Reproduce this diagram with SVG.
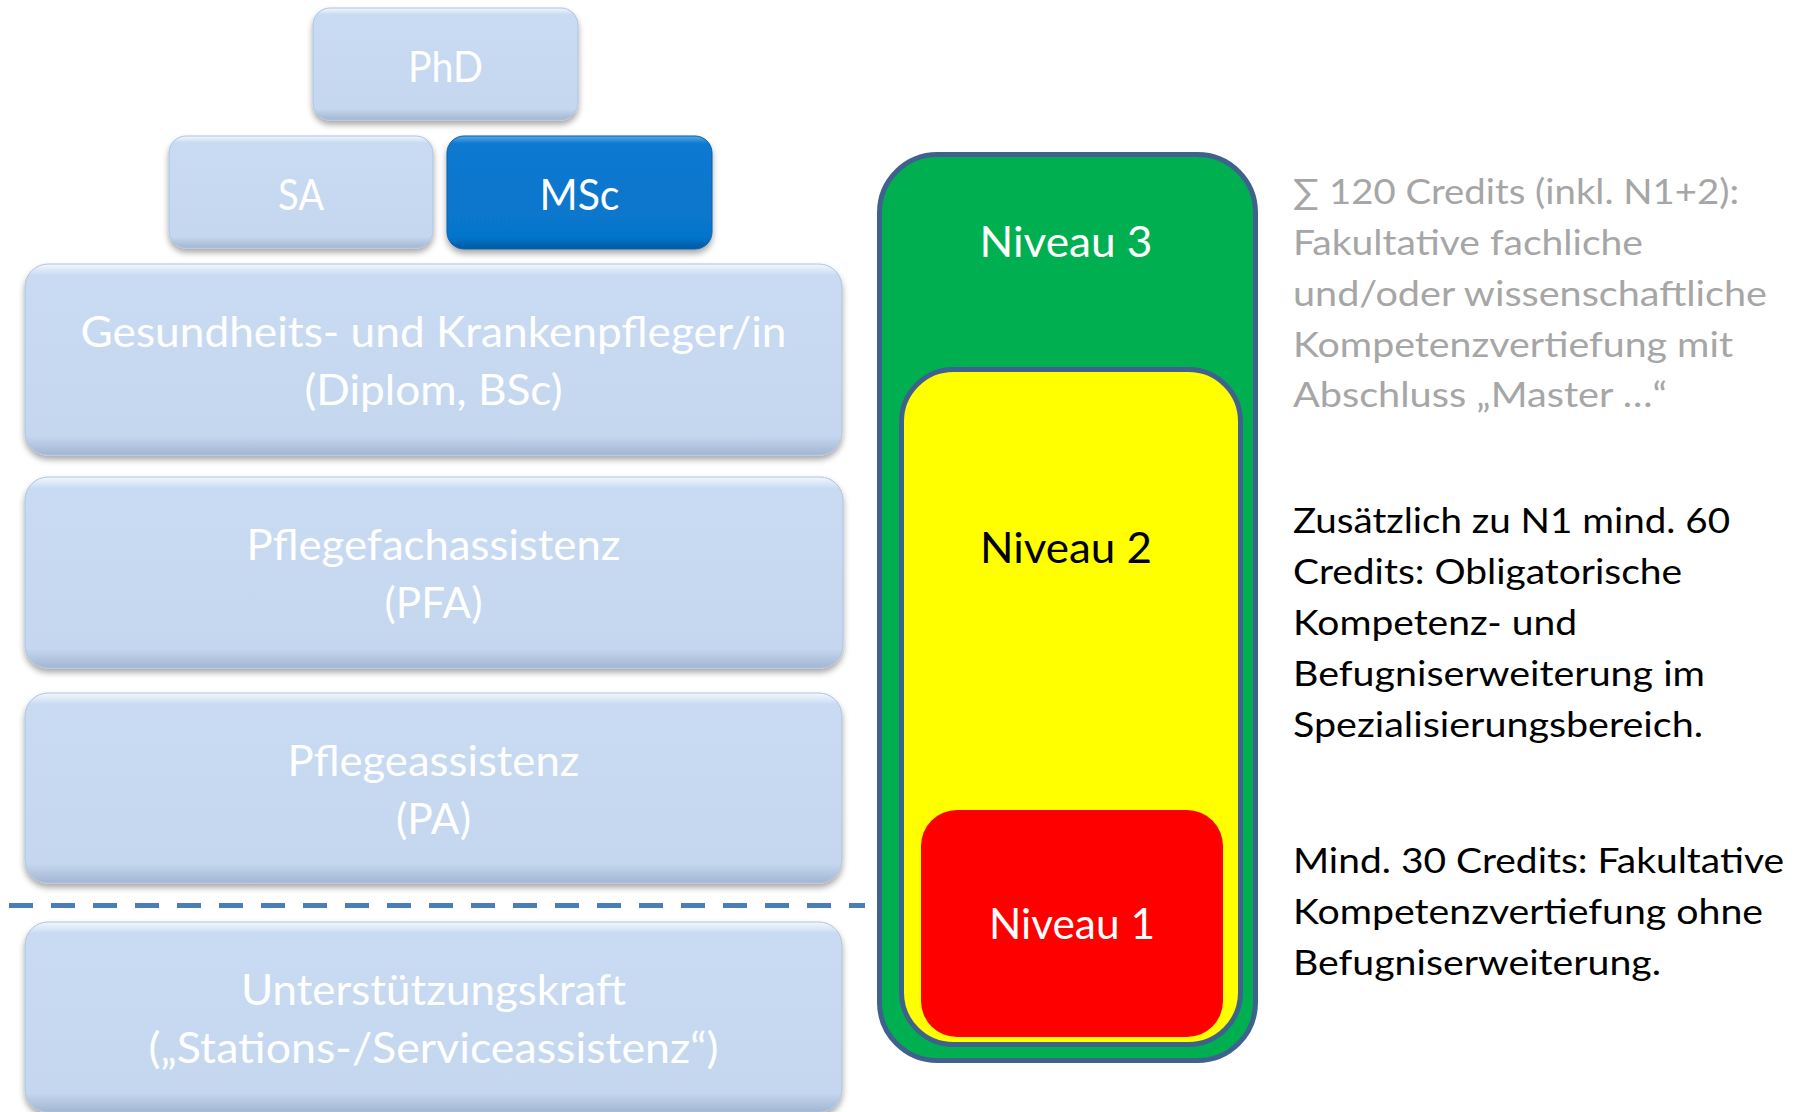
<svg xmlns="http://www.w3.org/2000/svg" width="1801" height="1112" viewBox="0 0 1801 1112">
<style>
.box{fill:url(#gLight);stroke:#AFC3DD;stroke-width:1;filter:url(#shadow)}
.boxDark{fill:url(#gDark);stroke:#0A5FA6;stroke-width:1;filter:url(#shadow)}
.lbl{font-family:Lato,"Liberation Sans",sans-serif;fill:#FFFFFF;text-anchor:middle}
.big{font-size:43px}
.small{font-size:42px}
.niv{font-family:Lato,"Liberation Sans",sans-serif;font-size:42px;text-anchor:middle}
.side{font-family:Lato,"Liberation Sans",sans-serif;font-size:35px}
.grey{fill:#A6A6A6}
.blk{fill:#000000}
.lvl{stroke:#3F618D;stroke-width:5}
</style>
<defs>
<linearGradient id="gLight" x1="0" y1="0" x2="0" y2="1">
<stop offset="0" stop-color="#F2F7FD"/>
<stop offset="0.06" stop-color="#C9DBF2"/>
<stop offset="0.9" stop-color="#C4D7EF"/>
<stop offset="1" stop-color="#A2B6D2"/>
</linearGradient>
<linearGradient id="gDark" x1="0" y1="0" x2="0" y2="1">
<stop offset="0" stop-color="#5AA6E6"/>
<stop offset="0.07" stop-color="#0A79D0"/>
<stop offset="0.9" stop-color="#0675CC"/>
<stop offset="1" stop-color="#05599E"/>
</linearGradient>
<filter id="shadow" x="-5%" y="-10%" width="110%" height="125%">
<feDropShadow dx="0" dy="4" stdDeviation="3" flood-color="#000000" flood-opacity="0.35"/>
</filter>
</defs>
<rect width="1801" height="1112" fill="#FFFFFF"/>

<g id="node-phd">
<rect class="box" x="313" y="8" width="265" height="112" rx="17"/>
<text class="lbl small" x="445.5" y="82" textLength="75" lengthAdjust="spacingAndGlyphs">PhD</text>
</g>
<g id="node-sa">
<rect class="box" x="169" y="136" width="264" height="112" rx="17"/>
<text class="lbl small" x="301" y="210" textLength="46" lengthAdjust="spacingAndGlyphs">SA</text>
</g>
<g id="node-msc">
<rect class="boxDark" x="447" y="136" width="265" height="113" rx="17"/>
<text class="lbl small" x="579.5" y="210" textLength="80" lengthAdjust="spacingAndGlyphs">MSc</text>
</g>
<g id="node-gk">
<rect class="box" x="25" y="264" width="817" height="191" rx="23"/>
<text class="lbl big" x="433.5" y="347" textLength="706" lengthAdjust="spacingAndGlyphs">Gesundheits- und Krankenpfleger/in</text>
<text class="lbl big" x="433.5" y="405" textLength="258" lengthAdjust="spacingAndGlyphs">(Diplom, BSc)</text>
</g>
<g id="node-pfa">
<rect class="box" x="25" y="477" width="818" height="191" rx="23"/>
<text class="lbl big" x="433.5" y="560" textLength="374" lengthAdjust="spacingAndGlyphs">Pflegefachassistenz</text>
<text class="lbl big" x="433.5" y="618" textLength="98" lengthAdjust="spacingAndGlyphs">(PFA)</text>
</g>
<g id="node-pa">
<rect class="box" x="25" y="693" width="817" height="190" rx="23"/>
<text class="lbl big" x="433.5" y="776" textLength="292" lengthAdjust="spacingAndGlyphs">Pflegeassistenz</text>
<text class="lbl big" x="433.5" y="834" textLength="75" lengthAdjust="spacingAndGlyphs">(PA)</text>
</g>
<g id="node-uk">
<rect class="box" x="25" y="922" width="817" height="190" rx="23"/>
<text class="lbl big" x="433.5" y="1005" textLength="385" lengthAdjust="spacingAndGlyphs">Unterstützungskraft</text>
<text class="lbl big" x="433.5" y="1063" textLength="570" lengthAdjust="spacingAndGlyphs">(„Stations-/Serviceassistenz“)</text>
</g>

<g id="connectors">
<line x1="9" y1="905.5" x2="865" y2="905.5" stroke="#4A7EBB" stroke-width="5" stroke-dasharray="24 18"/>
</g>

<g id="node-niveau3">
<rect class="lvl" x="879.5" y="154.5" width="376" height="906" rx="58" fill="#00B050"/>
<text class="niv" x="1066" y="257" fill="#FFFFFF" textLength="173" lengthAdjust="spacingAndGlyphs">Niveau 3</text>
</g>
<g id="node-niveau2">
<rect class="lvl" x="901.5" y="369.5" width="339" height="675" rx="52" fill="#FFFF00"/>
<text class="niv" x="1066" y="563" fill="#000000" textLength="172" lengthAdjust="spacingAndGlyphs">Niveau 2</text>
</g>
<g id="node-niveau1">
<rect x="921" y="810" width="302" height="227" rx="36" fill="#FF0000"/>
<text class="niv" x="1072" y="939" fill="#FFFFFF" textLength="166" lengthAdjust="spacingAndGlyphs">Niveau 1</text>
</g>

<g id="text-niveau3">
<text class="side grey" x="1293" y="204" textLength="446" lengthAdjust="spacingAndGlyphs">∑ 120 Credits (inkl. N1+2):</text>
<text class="side grey" x="1293" y="255" textLength="350" lengthAdjust="spacingAndGlyphs">Fakultative fachliche</text>
<text class="side grey" x="1293" y="306" textLength="474" lengthAdjust="spacingAndGlyphs">und/oder wissenschaftliche</text>
<text class="side grey" x="1293" y="357" textLength="440" lengthAdjust="spacingAndGlyphs">Kompetenzvertiefung mit</text>
<text class="side grey" x="1293" y="407" textLength="374" lengthAdjust="spacingAndGlyphs">Abschluss „Master …“</text>
</g>
<g id="text-niveau2">
<text class="side blk" x="1293" y="533" textLength="437" lengthAdjust="spacingAndGlyphs">Zusätzlich zu N1 mind. 60</text>
<text class="side blk" x="1293" y="584" textLength="389" lengthAdjust="spacingAndGlyphs">Credits: Obligatorische</text>
<text class="side blk" x="1293" y="635" textLength="284" lengthAdjust="spacingAndGlyphs">Kompetenz- und</text>
<text class="side blk" x="1293" y="686" textLength="412" lengthAdjust="spacingAndGlyphs">Befugniserweiterung im</text>
<text class="side blk" x="1293" y="737" textLength="410" lengthAdjust="spacingAndGlyphs">Spezialisierungsbereich.</text>
</g>
<g id="text-niveau1">
<text class="side blk" x="1293" y="873" textLength="491" lengthAdjust="spacingAndGlyphs">Mind. 30 Credits: Fakultative</text>
<text class="side blk" x="1293" y="924" textLength="470" lengthAdjust="spacingAndGlyphs">Kompetenzvertiefung ohne</text>
<text class="side blk" x="1293" y="975" textLength="368" lengthAdjust="spacingAndGlyphs">Befugniserweiterung.</text>
</g>
</svg>
